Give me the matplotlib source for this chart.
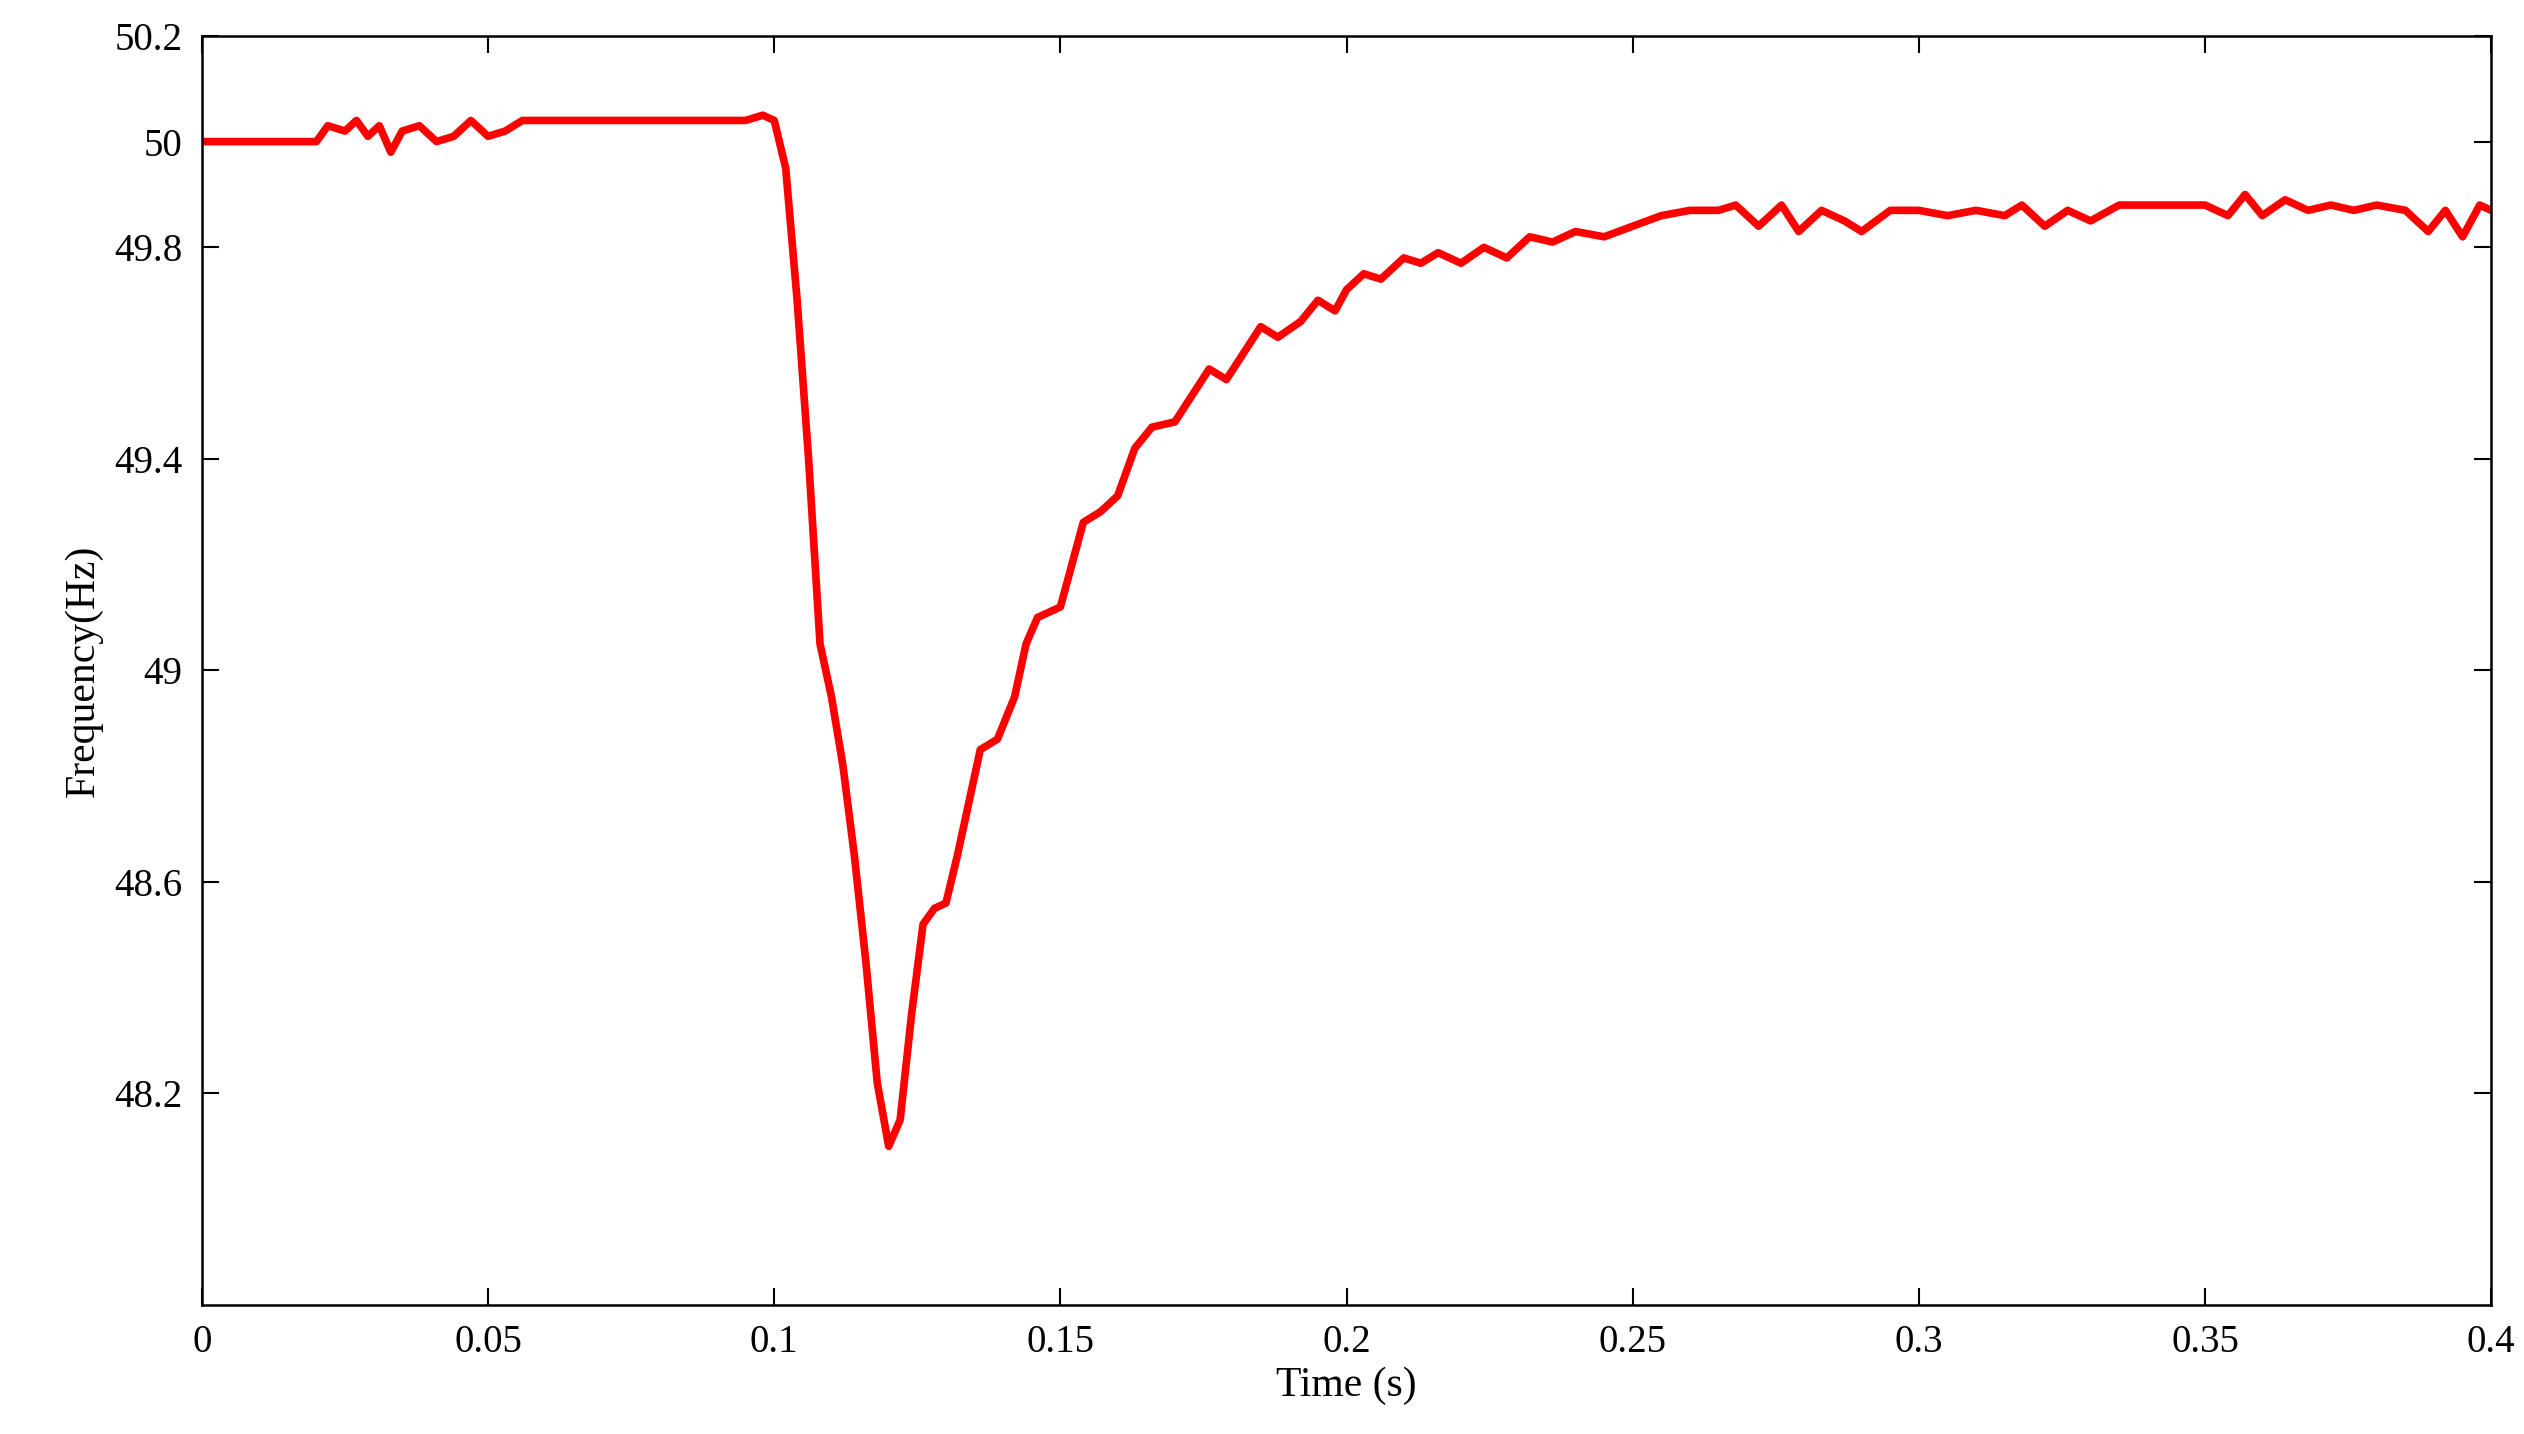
import matplotlib
matplotlib.use("Agg")
import matplotlib.pyplot as plt

# frequency trace
time_s = [0, 0.02, 0.022, 0.025, 0.027, 0.029, 0.031, 0.033, 0.035, 0.038, 0.041, 0.044,
          0.047, 0.05, 0.053, 0.056, 0.06, 0.095, 0.098, 0.1, 0.102, 0.104, 0.106, 0.108,
          0.11, 0.112, 0.114, 0.116, 0.118, 0.12, 0.122, 0.124, 0.126, 0.128, 0.13, 0.132,
          0.134, 0.136, 0.139, 0.142, 0.144, 0.146, 0.15, 0.152, 0.154, 0.157, 0.16, 0.163,
          0.166, 0.17, 0.173, 0.176, 0.179, 0.182, 0.185, 0.188, 0.192, 0.195, 0.198, 0.2,
          0.203, 0.206, 0.21, 0.213, 0.216, 0.22, 0.224, 0.228, 0.232, 0.236, 0.24, 0.245,
          0.25, 0.255, 0.26, 0.265, 0.268, 0.272, 0.276, 0.279, 0.283, 0.287, 0.29, 0.295,
          0.3, 0.305, 0.31, 0.315, 0.318, 0.322, 0.326, 0.33, 0.335, 0.34, 0.35, 0.354,
          0.357, 0.36, 0.364, 0.368, 0.372, 0.376, 0.38, 0.385, 0.389, 0.392, 0.395, 0.398, 0.4]
freq_hz = [50.0, 50.0, 50.03, 50.02, 50.04, 50.01, 50.03, 49.98, 50.02, 50.03, 50.0, 50.01,
           50.04, 50.01, 50.02, 50.04, 50.04, 50.04, 50.05, 50.04, 49.95, 49.7, 49.4, 49.05,
           48.95, 48.82, 48.65, 48.45, 48.22, 48.1, 48.15, 48.35, 48.52, 48.55, 48.56, 48.65,
           48.75, 48.85, 48.87, 48.95, 49.05, 49.1, 49.12, 49.2, 49.28, 49.3, 49.33, 49.42,
           49.46, 49.47, 49.52, 49.57, 49.55, 49.6, 49.65, 49.63, 49.66, 49.7, 49.68, 49.72,
           49.75, 49.74, 49.78, 49.77, 49.79, 49.77, 49.8, 49.78, 49.82, 49.81, 49.83, 49.82,
           49.84, 49.86, 49.87, 49.87, 49.88, 49.84, 49.88, 49.83, 49.87, 49.85, 49.83, 49.87,
           49.87, 49.86, 49.87, 49.86, 49.88, 49.84, 49.87, 49.85, 49.88, 49.88, 49.88, 49.86,
           49.9, 49.86, 49.89, 49.87, 49.88, 49.87, 49.88, 49.87, 49.83, 49.87, 49.82, 49.88, 49.87]

xticks = [0, 0.05, 0.1, 0.15, 0.2, 0.25, 0.3, 0.35, 0.4]
xlabels = ["0", "0.05", "0.1", "0.15", "0.2", "0.25", "0.3", "0.35", "0.4"]
yticks = [48.2, 48.6, 49, 49.4, 49.8, 50, 50.2]
ylabels = ["48.2", "48.6", "49", "49.4", "49.8", "50", "50.2"]

plt.rcParams["font.family"] = ["Liberation Serif", "DejaVu Serif"]

fig = plt.figure(figsize=(25.24, 14.34), dpi=100)
ax = fig.add_axes([0.08, 0.09, 0.907, 0.885])
ax.plot(time_s, freq_hz, color="red", linewidth=5.5, solid_joinstyle="round")
ax.set_xlim(0, 0.4)
ax.set_ylim(47.8, 50.2)
ax.set_xticks(xticks)
ax.set_xticklabels(xlabels)
ax.set_yticks(yticks)
ax.set_yticklabels(ylabels)
ax.tick_params(direction="in", top=True, right=True, length=12, width=1.5,
               labelsize=28, pad=14)
for s in ax.spines.values():
    s.set_linewidth(1.8)
ax.set_xlabel("Time (s)", fontsize=30, labelpad=4)
ax.set_ylabel("Frequency(Hz)", fontsize=30, labelpad=8)

fig.savefig("out.png", dpi=100)
